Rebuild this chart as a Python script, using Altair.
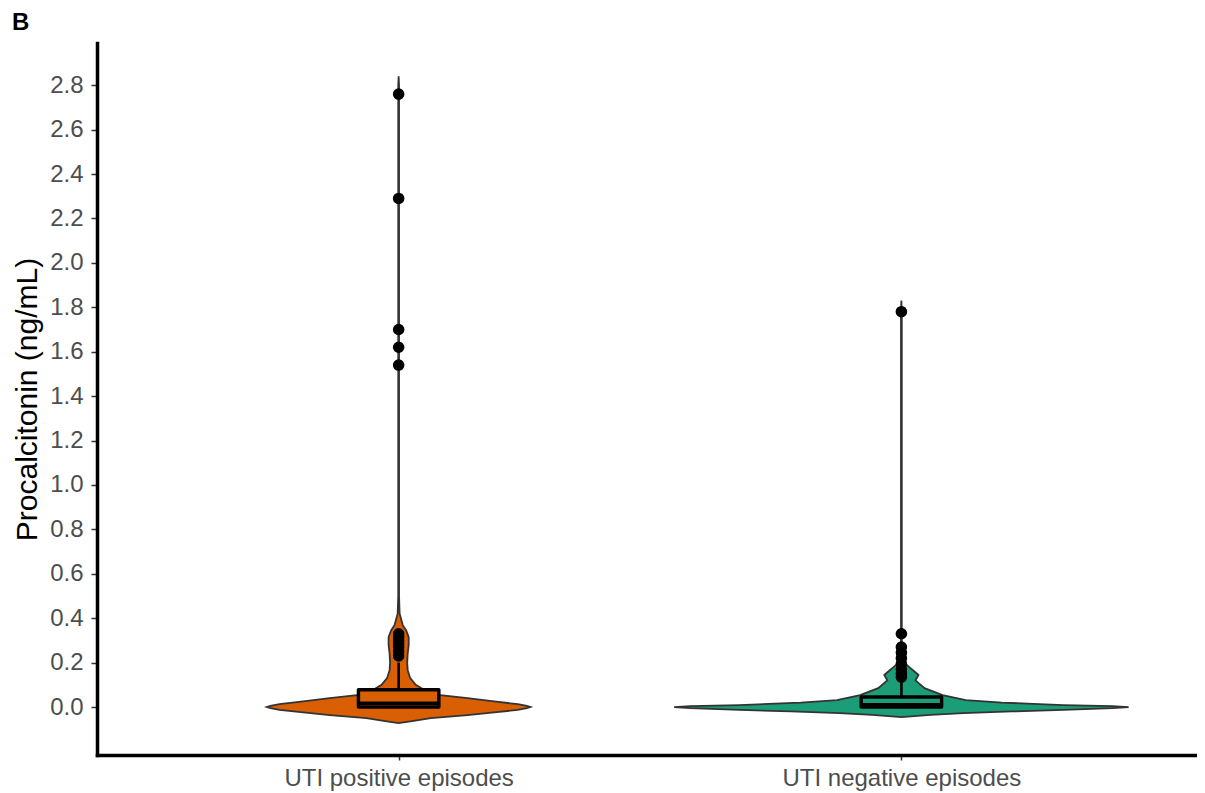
import altair as alt
import pandas as pd

# ---------------- data ----------------
groups = ["UTI positive episodes", "UTI negative episodes"]
group_index = [1, 2]
group_colors = ["#D95F02", "#1B9E77"]

# violin outlines: procalcitonin value and half-width (in category-step units)
pos_violin_y = [-0.072, -0.062, -0.05, -0.036, -0.024, -0.013, -0.005, 0.0, 0.005,
                0.013, 0.025, 0.04, 0.054, 0.075, 0.1, 0.13, 0.166, 0.2, 0.24,
                0.28, 0.315, 0.345, 0.37, 0.42, 0.5, 1.0, 1.5, 2.0, 2.5, 2.8, 2.84]
pos_violin_hw = [0.0, 0.03, 0.064, 0.137, 0.19, 0.237, 0.255, 0.262, 0.255,
                 0.237, 0.19, 0.137, 0.083, 0.052, 0.034, 0.023, 0.018, 0.017, 0.018,
                 0.02, 0.02, 0.015, 0.008, 0.002, 0.0008, 0.0008, 0.0008, 0.0008, 0.0008, 0.0008, 0.0]

neg_violin_y = [-0.045, -0.035, -0.027, -0.02, -0.013, -0.005, 0.0, 0.004, 0.009,
                0.02, 0.031, 0.054, 0.085, 0.12, 0.144, 0.16, 0.175, 0.198, 0.23,
                0.3, 0.8, 1.3, 1.78, 1.83]
neg_violin_hw = [0.0, 0.058, 0.123, 0.22, 0.322, 0.42, 0.452, 0.42, 0.322,
                 0.2, 0.128, 0.082, 0.046, 0.028, 0.034, 0.026, 0.018, 0.006, 0.002,
                 0.0008, 0.0008, 0.0008, 0.0008, 0.0]

# boxplot statistics
box_q1 = [0.0, 0.0]
box_median = [0.017, 0.01]
box_q3 = [0.078, 0.045]
whisker_high = [0.2, 0.12]

# outlying points
pos_outliers = [2.76, 2.29, 1.70, 1.62, 1.54, 0.33, 0.315, 0.30, 0.285, 0.27, 0.25, 0.23]
neg_outliers = [1.78, 0.33, 0.27, 0.245, 0.22, 0.195, 0.17, 0.15, 0.135]

y_ticks = [0.0, 0.2, 0.4, 0.6, 0.8, 1.0, 1.2, 1.4, 1.6, 1.8, 2.0, 2.2, 2.4, 2.6, 2.8]

# ---------------- tables ----------------
violin_rows = []
for g, i, ys, hws in [(groups[0], group_index[0], pos_violin_y, pos_violin_hw),
                      (groups[1], group_index[1], neg_violin_y, neg_violin_hw)]:
    for yv, hv in zip(ys, hws):
        violin_rows.append({"group": g, "idx": i, "y": yv, "hw": hv})
violin_df = pd.DataFrame(violin_rows)

box_df = pd.DataFrame({
    "group": groups, "idx": group_index, "q1": box_q1, "median": box_median,
    "q3": box_q3, "whi": whisker_high,
})

pt_rows = [{"group": groups[0], "idx": group_index[0], "value": v} for v in pos_outliers] + \
          [{"group": groups[1], "idx": group_index[1], "value": v} for v in neg_outliers]
pt_df = pd.DataFrame(pt_rows)

FONT = "Liberation Sans"
BOX_HALF = 0.08

xscale = alt.Scale(domain=[0.4, 2.588], nice=False, zero=False)
yscale = alt.Scale(domain=[-0.216, 2.99], nice=False, zero=False)
color = alt.Color("group:N", scale=alt.Scale(domain=groups, range=group_colors), legend=None)

x_axis = alt.Axis(values=group_index, title=None, grid=False,
                  labelExpr="datum.value == 1 ? 'UTI positive episodes' : 'UTI negative episodes'",
                  labelFont=FONT, labelFontSize=24, labelColor="#4D4D4D", labelPadding=6,
                  labelLimit=0,
                  tickSize=5, tickWidth=1.5, tickColor="#333333",
                  domainColor="black", domainWidth=3.5, domainCap="square")
y_axis = alt.Axis(values=y_ticks, format=".1f", title="Procalcitonin (ng/mL)", grid=False,
                  labelFont=FONT, labelFontSize=24, labelColor="#4D4D4D", labelPadding=8,
                  tickSize=6, tickWidth=1.5, tickColor="#333333",
                  domainColor="black", domainWidth=3.5, domainCap="square",
                  titleFont=FONT, titleFontSize=30, titleFontWeight="normal",
                  titleColor="black", titlePadding=7)

violin = alt.Chart(violin_df).transform_calculate(
    xl="datum.idx - datum.hw", xr="datum.idx + datum.hw"
).mark_area(orient="horizontal", stroke="#333333", strokeWidth=1.8, opacity=1).encode(
    y=alt.Y("y:Q", scale=yscale, axis=y_axis),
    x=alt.X("xl:Q", scale=xscale, axis=x_axis),
    x2="xr:Q",
    fill=color,
)

boxes = alt.Chart(box_df).transform_calculate(
    bl=f"datum.idx - {BOX_HALF}", br=f"datum.idx + {BOX_HALF}"
).mark_rect(stroke="black", strokeWidth=3.4, strokeJoin="round").encode(
    x=alt.X("bl:Q", scale=xscale, axis=x_axis),
    x2="br:Q",
    y=alt.Y("q1:Q", scale=yscale, axis=y_axis),
    y2="q3:Q",
    fill=color,
)

medians = alt.Chart(box_df).transform_calculate(
    bl=f"datum.idx - {BOX_HALF}", br=f"datum.idx + {BOX_HALF}"
).mark_rule(color="black", strokeWidth=3.4).encode(
    x=alt.X("bl:Q", scale=xscale, axis=x_axis),
    x2="br:Q",
    y=alt.Y("median:Q", scale=yscale, axis=y_axis),
)

whiskers = alt.Chart(box_df).mark_rule(color="black", strokeWidth=2.6).encode(
    x=alt.X("idx:Q", scale=xscale, axis=x_axis),
    y=alt.Y("q3:Q", scale=yscale, axis=y_axis),
    y2="whi:Q",
)

points = alt.Chart(pt_df).mark_circle(size=135, color="black", opacity=1).encode(
    x=alt.X("idx:Q", scale=xscale, axis=x_axis),
    y=alt.Y("value:Q", scale=yscale, axis=y_axis),
)

chart = alt.layer(violin, whiskers, boxes, medians, points).properties(
    width=1100, height=712,
    autosize=alt.AutoSizeParams(type="none"),
    padding={"left": 89, "top": 35, "right": 0, "bottom": 38},
    title=alt.TitleParams("B", anchor="start", frame="group", dx=-85, offset=8,
                          font=FONT, fontSize=24, fontWeight="bold", color="black"),
    background="white",
).configure_view(stroke=None)

chart.save("out.html", embed_options={"renderer": "svg", "actions": False})
